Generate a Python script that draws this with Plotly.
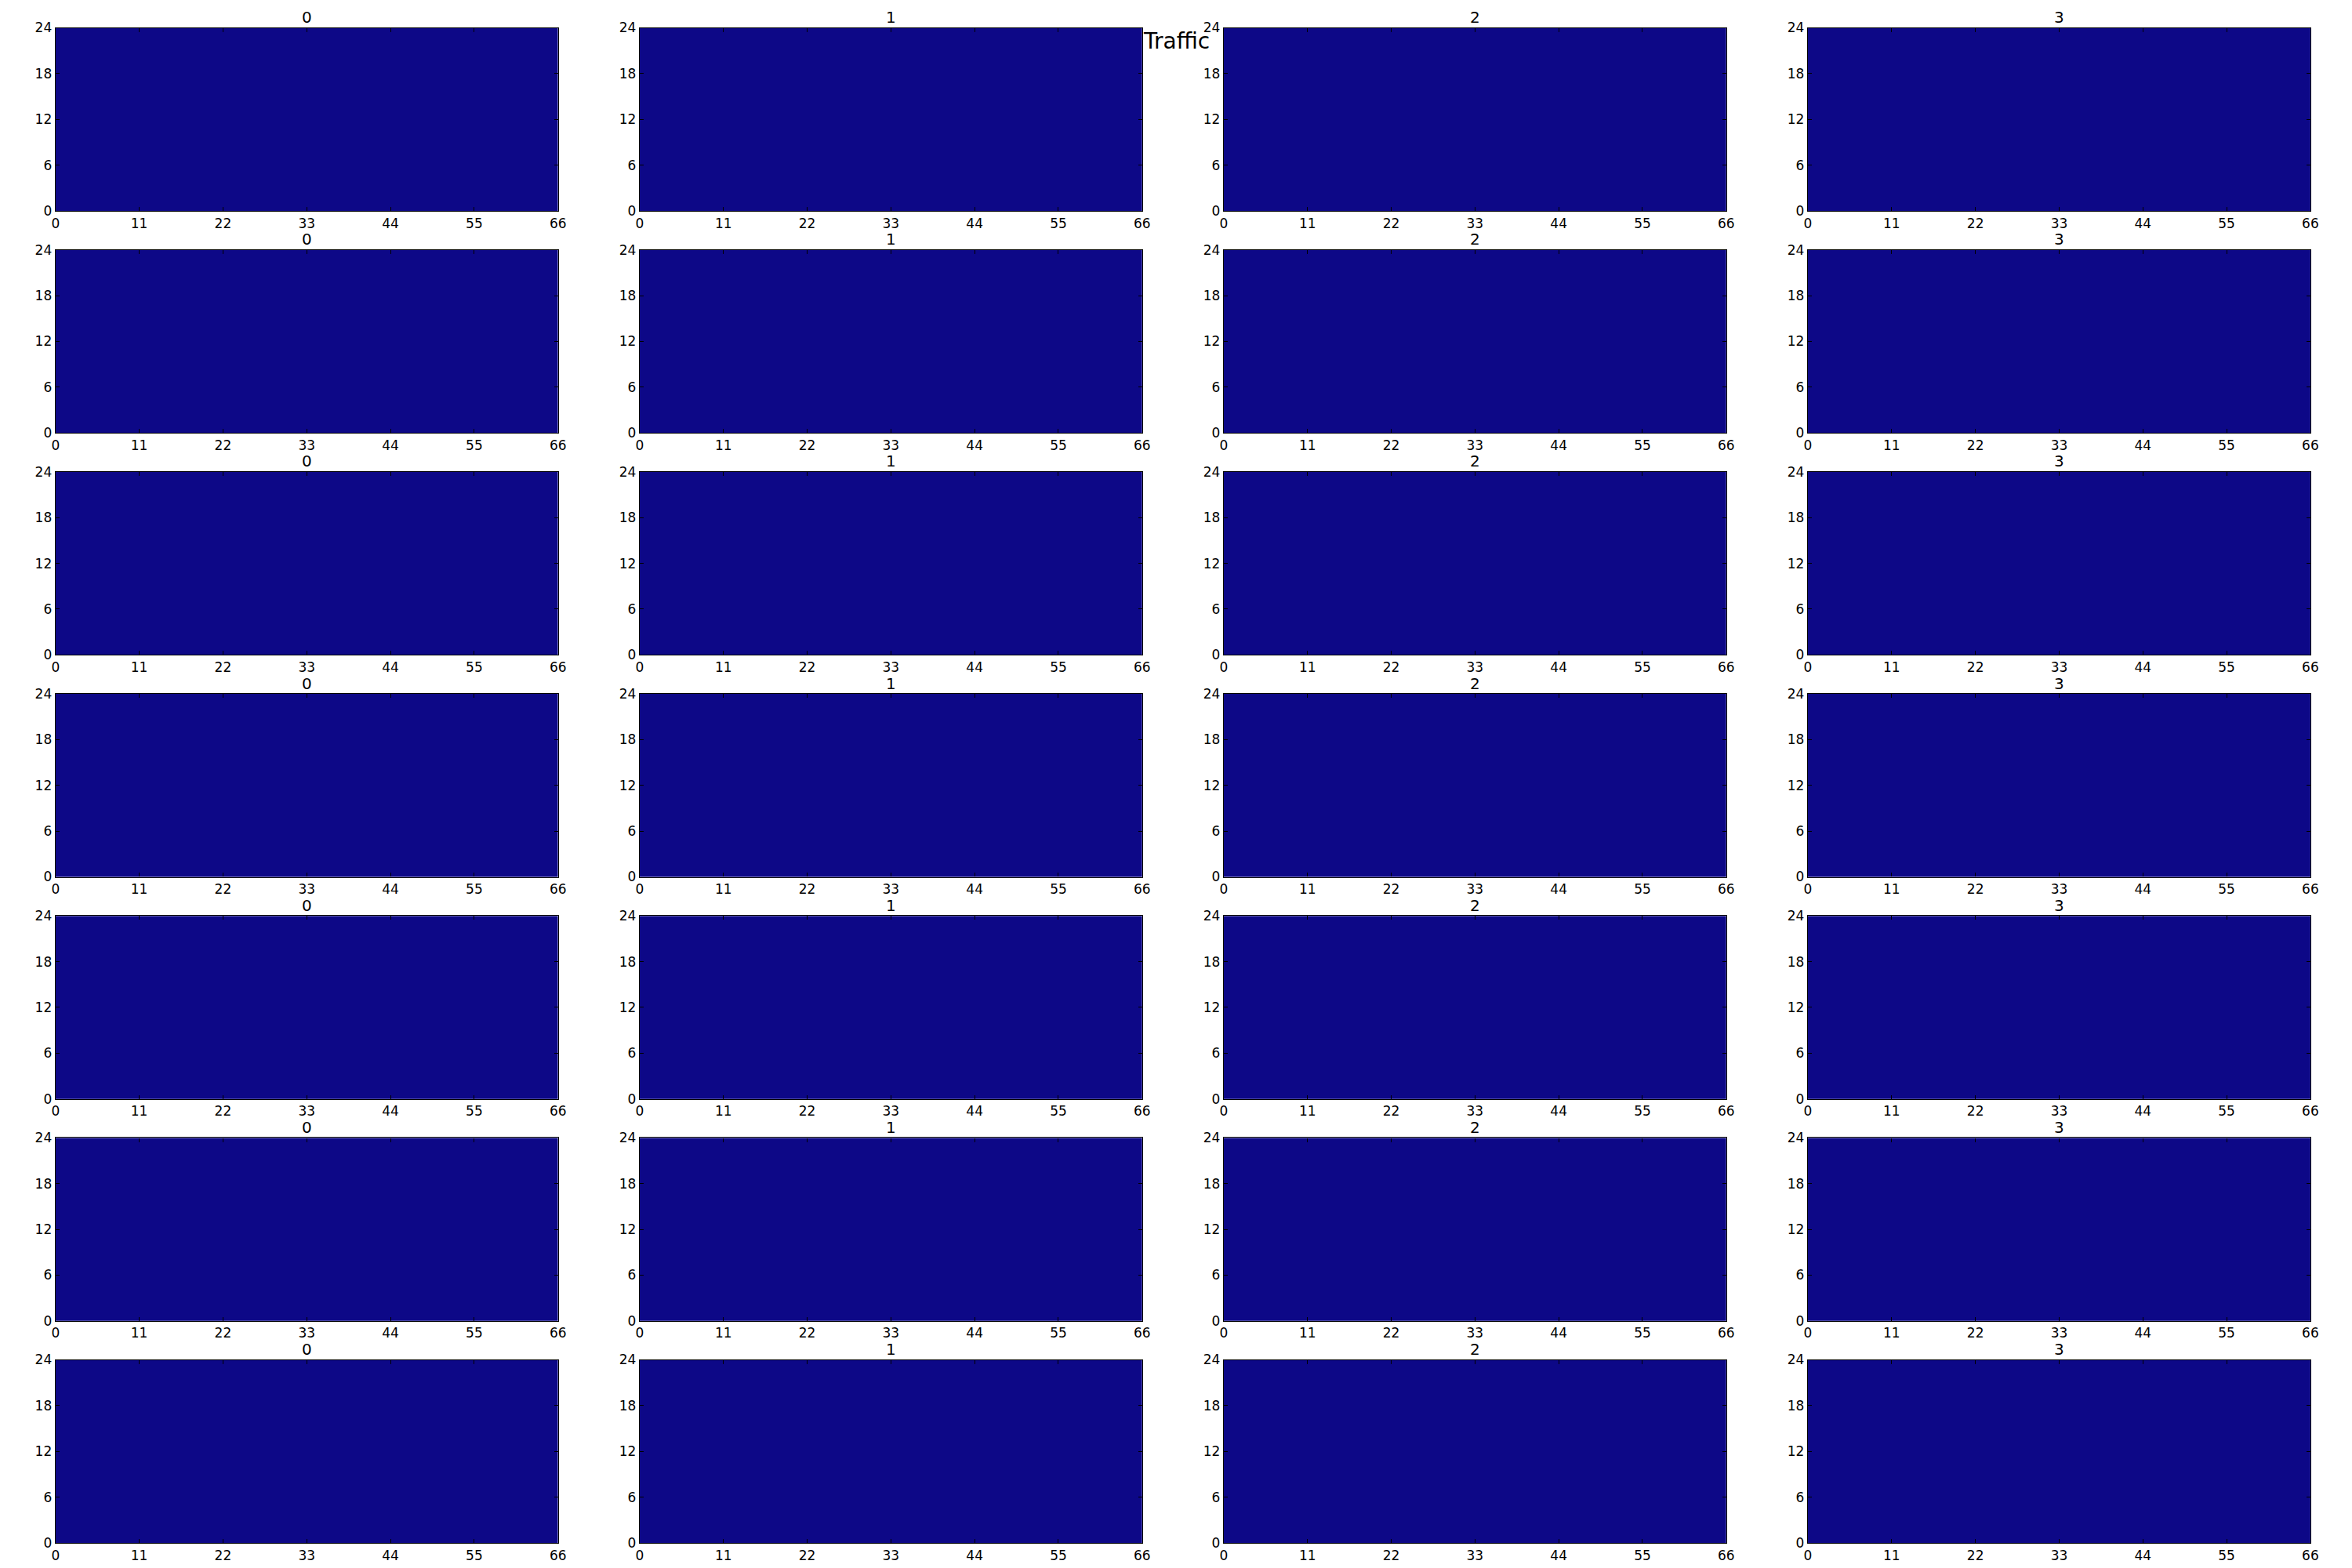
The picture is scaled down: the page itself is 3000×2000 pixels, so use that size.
import plotly.graph_objects as go

# ---- data ----
panel_titles = ["0", "1", "2", "3"]
n_rows = 7
x_ticks = [0, 11, 22, 33, 44, 55, 66]
y_ticks = [0, 6, 12, 18, 24]
n_x = 66
n_y = 24
# every cell of every panel reads as the colormap minimum (zero traffic)
traffic_zero_row = [0] * n_x
traffic_grid = [list(traffic_zero_row) for _ in range(n_y)]
suptitle = "Traffic"

W, H = 3000, 2000
# calibration between requested and photographed pixel positions
SX, BX = 0.9948, 4.2
SY, BY = 0.990, 8.0


def fx(t):
    return ((t - BX) / SX) / W


def fy(t):
    return 1 - ((t - BY) / SY) / H


col_left = [70.0, 815.2, 1560.3, 2305.5]
plot_w = 641.0
row_top0 = 33.5
row_pitch = 283.17
plot_h = 233.5

fig = go.Figure()
font = "DejaVu Sans"
annotations = []
idx = 0
for r in range(n_rows):
    for c in range(4):
        idx += 1
        xa = "x" if idx == 1 else f"x{idx}"
        ya = "y" if idx == 1 else f"y{idx}"
        left = col_left[c]
        top = row_top0 + row_pitch * r
        x0, x1 = fx(left), fx(left + plot_w)
        y1, y0 = fy(top), fy(top + plot_h)
        fig.add_trace(go.Heatmap(
            z=traffic_grid, x0=0.5, dx=1, y0=0.5, dy=1,
            colorscale="Plasma", zmin=0, zmax=1, showscale=False,
            xaxis=xa, yaxis=ya, hoverinfo="skip",
        ))
        axcommon = dict(showgrid=False, zeroline=False, showline=True,
                        linecolor="black", linewidth=1.3, mirror="ticks",
                        ticks="inside", ticklen=5, tickwidth=1, tickcolor="black",
                        tickfont=dict(family=font, size=17, color="black"))
        fig.layout[("xaxis" if idx == 1 else f"xaxis{idx}")] = dict(
            domain=[x0, x1], range=[0, 66], tickvals=x_ticks,
            anchor=ya, **axcommon)
        fig.layout[("yaxis" if idx == 1 else f"yaxis{idx}")] = dict(
            domain=[y0, y1], range=[0, 24], tickvals=y_ticks,
            anchor=xa, **axcommon)
        annotations.append(dict(
            text=panel_titles[c], x=(x0 + x1) / 2, y=fy(top - 13.5),
            xref="paper", yref="paper", xanchor="center", yanchor="middle",
            showarrow=False, font=dict(family=font, size=20, color="black")))

annotations.append(dict(
    text=suptitle, x=fx(1500), y=fy(51), xref="paper", yref="paper",
    xanchor="center", yanchor="middle", showarrow=False,
    font=dict(family=font, size=28, color="black")))

fig.update_layout(width=W, height=H, margin=dict(l=0, r=0, t=0, b=0),
                  paper_bgcolor="white", plot_bgcolor="white",
                  annotations=annotations, showlegend=False)
fig.write_html("out.html")
